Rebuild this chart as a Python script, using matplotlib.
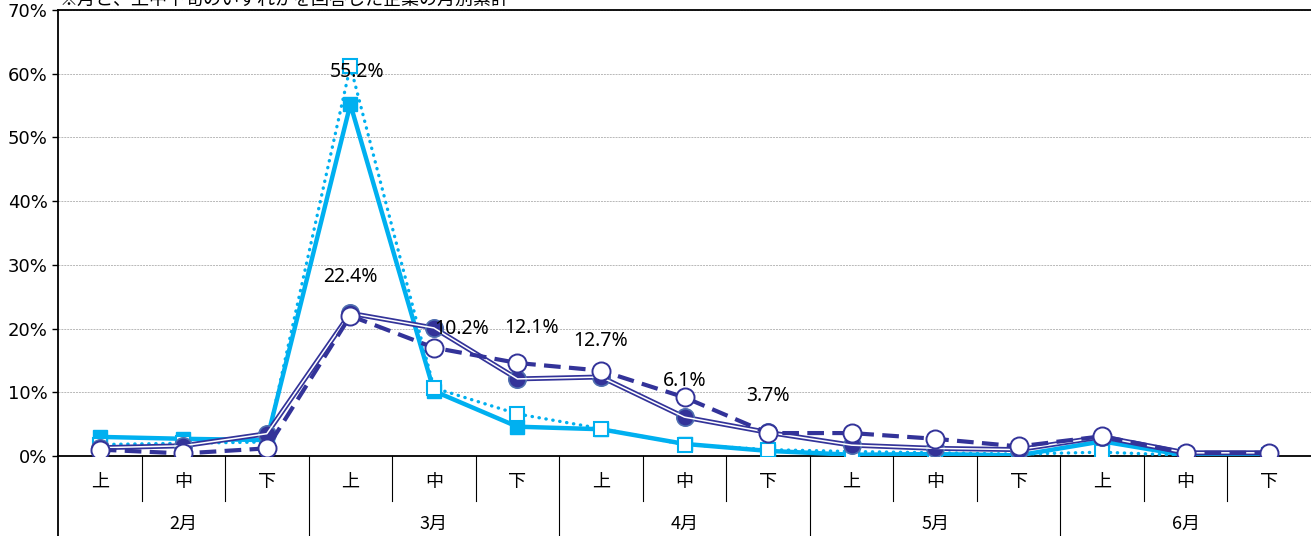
import matplotlib
matplotlib.use('Agg')
import matplotlib.pyplot as plt
from matplotlib.ticker import FuncFormatter

plt.rcParams['font.family'] = ['Noto Sans CJK JP', 'DejaVu Sans']

# ---- data ----
months = ['2月', '3月', '4月', '5月', '6月']
periods = ['上', '中', '下']
title = '※月と、上中下旬のいずれかを回答した企業の月別累計'

# light blue, solid, filled squares
series_a = [3.0, 2.7, 2.5, 55.2, 10.2, 4.6, 4.2, 1.9, 0.8, 0.2, 0.3, 0.1, 2.3, 0.1, 0.1]
# light blue, dotted, open squares
series_b = [1.8, 2.0, 2.2, 61.2, 10.7, 6.6, 4.3, 1.8, 1.0, 0.7, 0.5, 0.3, 0.6, 0.1, 0.1]
# navy, double line, filled circles
series_c = [1.3, 1.6, 3.5, 22.4, 20.1, 12.1, 12.4, 6.1, 3.7, 1.7, 1.2, 1.0, 3.0, 0.5, 0.5]
# navy, dashed, open circles
series_d = [1.0, 0.4, 1.2, 22.0, 17.0, 14.6, 13.4, 9.2, 3.6, 3.6, 2.7, 1.5, 3.1, 0.5, 0.5]

# value labels: (text, series, index, offset in points)
labels = [
    ('55.2%', 'a', 3, (5, 23)),
    ('22.4%', 'c', 3, (0, 26)),
    ('10.2%', 'c', 4, (20, -1)),
    ('12.1%', 'c', 5, (10, 37)),
    ('12.7%', 'c', 6, (0, 26)),
    ('6.1%', 'c', 7, (0, 26)),
    ('3.7%', 'c', 8, (0, 26)),
]

LIGHT = '#00B0F0'
NAVY = '#333399'

x = list(range(len(series_a)))

fig = plt.figure(figsize=(13.11, 5.36), dpi=100)
ax = fig.add_axes([58 / 1311, 80 / 536, 1 - 58 / 1311, 446 / 536])

ax.plot(x, series_a, color=LIGHT, lw=3.2, marker='s', ms=9.5,
        mfc=LIGHT, mec=LIGHT, zorder=3)
ax.plot(x, series_b, color=LIGHT, lw=2.4, linestyle=(0, (0.1, 2.0)),
        dash_capstyle='round', marker='s', ms=9.5, mfc='white', mec=LIGHT,
        mew=1.5, zorder=4)
ax.plot(x, series_c, color=NAVY, lw=3.6, marker='o', ms=12.5,
        mfc=NAVY, mec='#4F6FB0', mew=1.2, zorder=5)
ax.plot(x, series_c, color='white', lw=1.1, zorder=5)
ax.plot(x, series_d, color=NAVY, lw=3.0, linestyle=(0, (4, 2)),
        marker='o', ms=13, mfc='white', mec=NAVY, mew=1.4, zorder=6)

data = {'a': series_a, 'b': series_b, 'c': series_c, 'd': series_d}
for txt, s, i, off in labels:
    ax.annotate(txt, (x[i], data[s][i]), xytext=off, textcoords='offset points',
                ha='center', va='center', fontsize=14, zorder=7,
                family=['Noto Sans', 'DejaVu Sans'])

ax.set_xlim(-0.5, len(x) - 0.5)
ax.set_ylim(0, 70)
ax.set_yticks(range(0, 71, 10))
ax.yaxis.set_major_formatter(FuncFormatter(lambda v, p: '%d%%' % v))
ax.yaxis.grid(True, color='#B8B8B8', linestyle=(0, (2, 1)), lw=0.7)
ax.set_axisbelow(True)
ax.tick_params(axis='y', length=4, direction='out', labelsize=13, width=1,
               labelfontfamily='Liberation Sans Narrow')
ax.set_xticks([])

for side in ['left', 'top', 'bottom']:
    ax.spines[side].set_linewidth(1.3)
    ax.spines[side].set_color('black')
ax.spines['right'].set_visible(False)
ax.spines['left'].set_bounds(0, 70)

# category axis under the plot
trans = ax.get_xaxis_transform()
ax.plot([-0.5, -0.5], [0, -0.18], color='black', lw=1.3, transform=trans, clip_on=False)
for k in range(1, len(x)):
    xb = k - 0.5
    if k % 3 == 0:
        ax.plot([xb, xb], [0, -0.18], color='black', lw=0.8, transform=trans, clip_on=False)
    else:
        ax.plot([xb, xb], [0, -0.1], color='black', lw=0.8, transform=trans, clip_on=False)
for i in x:
    ax.text(i, -0.058, periods[i % 3], transform=trans, ha='center', va='center',
            fontsize=13)
for m, name in enumerate(months):
    ax.text(3 * m + 1, -0.153, name, transform=trans, ha='center', va='center',
            fontsize=13)

fig.text(60 / 1311, 1.0, title, ha='left', va='center', fontsize=13)

fig.savefig('out.png', dpi=100)
